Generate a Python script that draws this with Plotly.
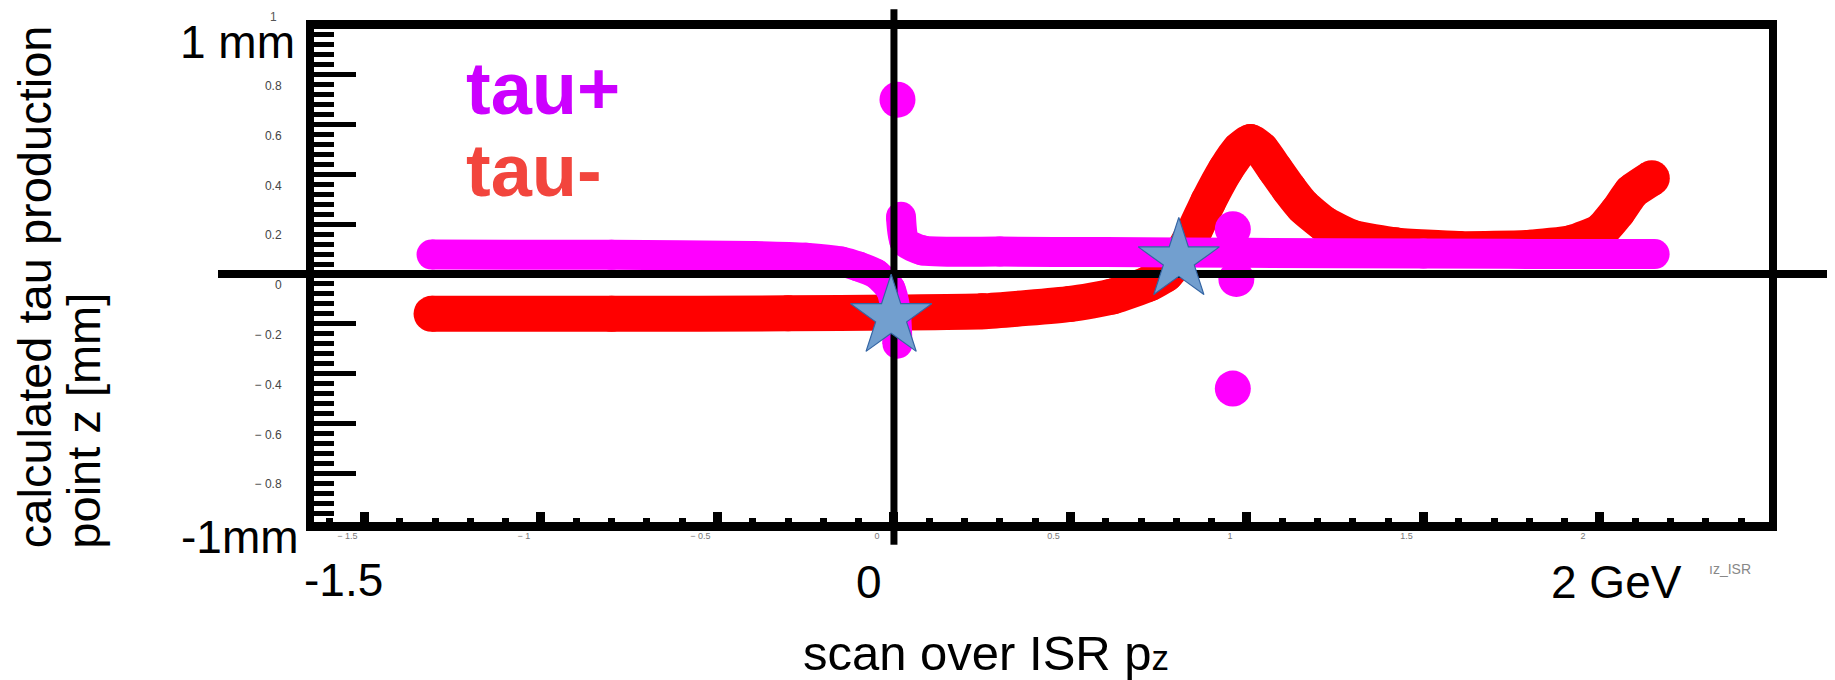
import plotly.graph_objects as go

# ---------------- data ----------------
tau_minus_x = [-1.31, -0.8, -0.3, 0.0, 0.25, 0.5, 0.62, 0.72, 0.77, 0.81, 0.85, 0.89, 0.94, 0.98,
               1.01, 1.04, 1.08, 1.12, 1.16, 1.22, 1.3, 1.42, 1.6, 1.8, 1.92, 2.0, 2.05, 2.09, 2.147]
tau_minus_y = [-0.16, -0.16, -0.158, -0.155, -0.15, -0.12, -0.09, -0.04, 0.0, 0.07, 0.17, 0.29, 0.42, 0.50,
               0.53, 0.50, 0.42, 0.34, 0.27, 0.2, 0.145, 0.115, 0.1, 0.105, 0.125, 0.17, 0.25, 0.33, 0.385]

tau_plus_left_x = [-1.31, -0.8, -0.4, -0.25, -0.15, -0.1, -0.05, -0.01, 0.005, 0.01]
tau_plus_left_y = [0.078, 0.077, 0.072, 0.065, 0.05, 0.03, 0.0, -0.06, -0.15, -0.28]

tau_plus_right_x = [0.02, 0.03, 0.08, 0.3, 0.6, 1.0, 1.5, 2.0, 2.155]
tau_plus_right_y = [0.23, 0.13, 0.095, 0.09, 0.088, 0.085, 0.082, 0.08, 0.08]

tau_plus_dots_x = [0.01, 0.96, 0.97, 0.96]
tau_plus_dots_y = [0.70, 0.18, -0.02, -0.46]

star_x = [-0.008, 0.807]
star_y = [-0.172, 0.056]

x_tick_vals = [-1.5, -1, -0.5, 0, 0.5, 1, 1.5, 2]
x_tick_text = ["\u2212 1.5", "\u2212 1", "\u2212 0.5", "0", "0.5", "1", "1.5", "2"]
y_tick_vals = [-0.8, -0.6, -0.4, -0.2, 0, 0.2, 0.4, 0.6, 0.8]
y_tick_text = ["\u2212 0.8", "\u2212 0.6", "\u2212 0.4", "\u2212 0.2", "0", "0.2", "0.4", "0.6", "0.8"]

# ---------------- geometry ----------------
W, H = 1835, 680
PL, PR, PT, PB = 306, 1761, 15, 514
X_RANGE = [-1.643, 2.479]
Y_RANGE = [-0.996, 0.984]
DX, DY = -7, -6  # global offset for the overlaid slide texts


def pxx(px):
    return (px - PL) / (PR - PL)


def pxy(py):
    return (PB - py) / (PB - PT)


FONT = "Liberation Sans, Arial, sans-serif"
MAGENTA = "#FF00FF"
RED = "#FF0000"

fig = go.Figure()

fig.add_trace(go.Scatter(
    x=tau_minus_x, y=tau_minus_y, mode="lines+markers",
    line=dict(color=RED, width=36, shape="spline", smoothing=0.5),
    marker=dict(color=RED, size=36, line=dict(width=0)),
    showlegend=False, hoverinfo="skip"))

for xs, ys in [(tau_plus_left_x, tau_plus_left_y), (tau_plus_right_x, tau_plus_right_y)]:
    fig.add_trace(go.Scatter(
        x=xs, y=ys, mode="lines+markers",
        line=dict(color=MAGENTA, width=30, shape="spline", smoothing=0.6),
        marker=dict(color=MAGENTA, size=30, line=dict(width=0)),
        showlegend=False, hoverinfo="skip"))

fig.add_trace(go.Scatter(
    x=tau_plus_dots_x, y=tau_plus_dots_y, mode="markers",
    marker=dict(color=MAGENTA, size=36, line=dict(width=0)),
    showlegend=False, hoverinfo="skip"))

# black cross lines inside the frame
fig.add_trace(go.Scatter(x=X_RANGE, y=[0, 0], mode="lines",
                         line=dict(color="black", width=8),
                         showlegend=False, hoverinfo="skip"))
fig.add_trace(go.Scatter(x=[0, 0], y=Y_RANGE, mode="lines",
                         line=dict(color="black", width=7),
                         showlegend=False, hoverinfo="skip"))

fig.add_trace(go.Scatter(
    x=star_x, y=star_y, mode="markers",
    marker=dict(symbol="star", size=61, color="#729FCF",
                line=dict(color="#3465A4", width=1.2)),
    showlegend=False, hoverinfo="skip"))

# extensions of the cross lines outside the frame
shapes = [
    dict(type="line", xref="paper", yref="y", x0=pxx(210), x1=pxx(PL), y0=0, y1=0,
         line=dict(color="black", width=8), layer="above"),
    dict(type="line", xref="paper", yref="y", x0=pxx(PR), x1=pxx(W + 5), y0=0, y1=0,
         line=dict(color="black", width=8), layer="above"),
    dict(type="line", xref="x", yref="paper", x0=0, x1=0, y0=pxy(-5), y1=pxy(PT),
         line=dict(color="black", width=7), layer="above"),
    dict(type="line", xref="x", yref="paper", x0=0, x1=0, y0=pxy(PB), y1=pxy(537),
         line=dict(color="black", width=7), layer="above"),
]

BIG = 46


def ann(text, px, py, size=BIG, color="black", xanchor="left", yanchor="middle", angle=0):
    return dict(text=text, x=pxx(px + DX), y=pxy(py + DY), xref="paper", yref="paper",
                xanchor=xanchor, yanchor=yanchor, showarrow=False, textangle=angle,
                font=dict(family=FONT, size=size, color=color))


annotations = [
    ann("1 mm", 177, 34),
    ann("-1mm", 178, 535),
    ann("-1.5", 301, 579),
    ann("0", 853, 581),
    ann("2 GeV", 1548, 581),
    ann("scan over ISR p<span style='font-size:35px'>z</span>", 800, 653, size=49),
    ann("<b>tau+</b>", 463, 81, size=74, color="#CC00FF"),
    ann("<b>tau-</b>", 463, 164, size=74, color="#F2453D"),
    ann("calculated tau production", 33, 549, size=47, xanchor="center", yanchor="bottom", angle=-90),
    ann("point z [mm]", 83, 549, size=47, xanchor="center", yanchor="bottom", angle=-90),
    ann("\u0131z_ISR", 1706, 568, size=14, color="#888888"),
    ann("1", 278, 9, size=12, color="#555555", xanchor="right"),
]

fig.update_layout(
    width=W, height=H, autosize=False,
    margin=dict(l=PL, r=W - PR, t=PT, b=H - PB, pad=0),
    paper_bgcolor="white", plot_bgcolor="white",
    shapes=shapes, annotations=annotations,
    xaxis=dict(range=X_RANGE, showgrid=False, zeroline=False,
               showline=True, linewidth=9, linecolor="black", mirror=True,
               ticks="inside", ticklen=10, tickwidth=9, tickcolor="black",
               tickmode="array", tickvals=x_tick_vals, ticktext=x_tick_text,
               tickfont=dict(family=FONT, size=9, color="#777777"),
               ticklabelshift=-17, ticklabelstandoff=-3,
               minor=dict(ticks="inside", ticklen=4, tickwidth=7, tickcolor="black",
                          tickmode="linear", tick0=0, dtick=0.1, showgrid=False)),
    yaxis=dict(range=Y_RANGE, showgrid=False, zeroline=False,
               showline=True, linewidth=8, linecolor="black", mirror=True,
               ticks="inside", ticklen=42, tickwidth=5, tickcolor="black",
               tickmode="array", tickvals=y_tick_vals, ticktext=y_tick_text,
               tickfont=dict(family=FONT, size=12, color="#444444"),
               ticklabelshift=11, ticklabelstandoff=22,
               minor=dict(ticks="inside", ticklen=20, tickwidth=5, tickcolor="black",
                          tickmode="linear", tick0=0, dtick=0.04, showgrid=False)),
)

fig.write_html("out.html")
